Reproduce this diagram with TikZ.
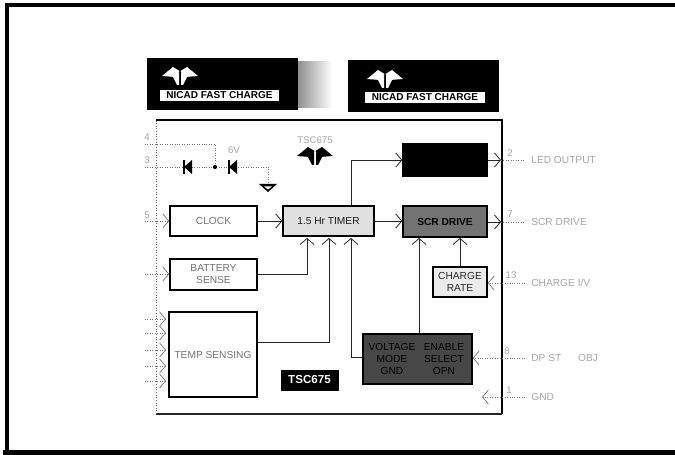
\documentclass[tikz,border=0pt]{standalone}
\usepackage{fontspec}
\setmainfont{Liberation Sans}
\usetikzlibrary{arrows.meta}
\tikzset{
    tdLogoPic/.pic={
        \fill[pic actions] (-18,0) -- (-7,-9) -- (-0.5,-5) -- (-5,1) -- cycle;
        \fill[pic actions] (18,0) -- (7,-9) -- (0.5,-5) -- (5,1) -- cycle;
        \fill[pic actions] (-7,1) -- (-1,-4) -- (-1,9) -- (-3,9) -- cycle;
        \fill[pic actions] (7,1) -- (1,-4) -- (1,9) -- (3,9) -- cycle;
    },
    diodePic/.pic={
        \fill[black] (-2,0) -- (6,-7) -- (6,7) -- cycle;
        \draw[black, line width=0.7pt] (-2,-7) -- (-2,7);
    }
}
\begin{document}
\begin{tikzpicture}[
    x=0.02cm, y=-0.02cm,
    tscTextStyle/.style={font=\fontsize{5.8}{6.8}\selectfont, align=center, inner sep=0pt},
    tscBlockStyle/.style={tscTextStyle, draw=black, line width=0.85pt, text=black!55},
    tscTimerStyle/.style={tscBlockStyle, fill=black!12, text=black!90},
    tscDriveStyle/.style={tscBlockStyle, fill=black!55, text=black, font=\fontsize{5.8}{6.8}\selectfont\bfseries},
    tscDarkStyle/.style={tscBlockStyle, fill=black!72, text=black},
    tscBadgeStyle/.style={fill=black, draw=black, inner sep=0pt},
    tscTagStyle/.style={fill=white, text=black, inner sep=0pt, font=\fontsize{5.7}{6.7}\selectfont\bfseries},
    tscPinStyle/.style={font=\fontsize{5.5}{6.5}\selectfont, text=black!35, inner sep=0pt},
    tscSignalStyle/.style={font=\fontsize{5.8}{6.8}\selectfont, text=black!35, anchor=west, inner sep=3.4pt},
    tscWireStyle/.style={black!85, line width=0.45pt},
    tscPinWireStyle/.style={black!55, line width=0.4pt, densely dotted},
    >={Straight Barb[length=3.4pt, width=8pt]}
]
    \useasboundingbox (0,0) rectangle (675,455);
    % --- page frame ---
    \draw[black, line width=2.5pt] (675,5) -- (7,5) -- (7,452.5);
    \draw[black, line width=2.8pt] (3,452.5) -- (675,452.5);

    % --- two labels on top ---
    \shade[left color=black!45, right color=white] (297,62) rectangle (332,108);
    \node[tscBadgeStyle, minimum width=3cm, minimum height=1.02cm] (badgeA) at (222,83.5) {};
    \node[tscBadgeStyle, minimum width=3cm, minimum height=1.02cm] (badgeB) at (423,85.5) {};
    \node[tscTagStyle, minimum width=2.38cm, minimum height=0.22cm] (tagA) at (219.5,95.5) {NICAD FAST CHARGE};
    \node[tscTagStyle, minimum width=2.4cm, minimum height=0.22cm] (tagB) at (425,97.5) {NICAD FAST CHARGE};
    \pic[fill=white] at (180,76) {tdLogoPic};
    \pic[fill=white] at (385,79) {tdLogoPic};

    % --- chip outline ---
    \draw[black, line width=0.8pt] (156,120) -- (502,120) -- (502,414);
    \draw[black!85, line width=0.6pt] (502,414) -- (156,414);
    \draw[black!60, line width=0.5pt, densely dotted] (156,414) -- (156,120);
    \node[tscPinStyle] (chipName) at (315,140) {TSC675};
    \pic[fill=black] at (315,156) {tdLogoPic};

    % --- blocks ---
    \node[tscBlockStyle, minimum width=1.74cm, minimum height=0.6cm] (clock) at (213.5,221) {CLOCK};
    \node[tscTimerStyle, minimum width=1.82cm, minimum height=0.6cm] (timer) at (328.5,221) {1.5 Hr TIMER};
    \node[tscBlockStyle, minimum width=1.74cm, minimum height=0.62cm] (battery) at (213.5,274.5) {BATTERY\\SENSE};
    \node[tscBlockStyle, minimum width=1.76cm, minimum height=1.7cm] (tempSense) at (213,354.5) {TEMP SENSING};
    \node[tscBadgeStyle, text=white, font=\fontsize{6.6}{7.6}\selectfont\bfseries, minimum width=1.14cm, minimum height=0.4cm] (tscTag) at (309.5,380) {TSC675};
    \node[tscBlockStyle, fill=black, minimum width=1.68cm, minimum height=0.64cm] (led) at (445,160) {};
    \node[tscDriveStyle, minimum width=1.68cm, minimum height=0.62cm] (scr) at (445,221.5) {SCR DRIVE};
    \node[tscBlockStyle, fill=black!8, text=black!85, minimum width=1.08cm, minimum height=0.6cm] (rate) at (460,282) {CHARGE\\RATE};
    \node[tscDarkStyle, minimum width=2.18cm, minimum height=1cm] (mode) at (417.5,359) {};
    \node[tscTextStyle, text=black, anchor=center] (modeA) at (392,359) {VOLTAGE\\MODE\\GND};
    \node[tscTextStyle, text=black, anchor=center] (modeB) at (444,359) {ENABLE\\SELECT\\OPN};

    % --- diodes, left top ---
    \coordinate (pinA) at (145,144);
    \coordinate (pinB) at (145,167);
    \coordinate (diodeA) at (186,167);
    \coordinate (junct) at (215,167);
    \coordinate (zener) at (231,167);
    \coordinate (gndTop) at (268,185);
    \draw[tscPinWireStyle] (pinA) -- (215,144) -- (junct);
    \draw[tscPinWireStyle] (pinB) -- (diodeA) -- (junct) -- (zener) -- (268,167) -- (gndTop);
    \fill[black] (junct) circle (1.2pt);
    \pic at (diodeA) {diodePic};
    \pic at (zener) {diodePic};
    \fill[black] (259,184) -- (277,184) -- (268,192) -- cycle;
    \fill[white] (264,186.5) -- (272,186.5) -- (268,189.5) -- cycle;
    \node[tscPinStyle] (zenerVolt) at (234,150) {6V};

    % --- left pins ---
    \coordinate (pinC) at (145,221);
    \coordinate (pinD) at (145,274);
    \node[tscPinStyle] (numA) at (147,137) {4};
    \node[tscPinStyle] (numB) at (147,160) {3};
    \node[tscPinStyle] (numC) at (147,215) {5};
    \draw[tscPinWireStyle, ->] (pinC) -- (clock);
    \draw[tscPinWireStyle, ->] (pinD) -- (battery.west |- pinD);
    \foreach \tempPinY/\tempPinName in {319/A, 333/B, 350/C, 366/D, 381/E} {
        \coordinate (tempPin\tempPinName) at (145,\tempPinY);
        \draw[tscPinWireStyle, ->] (tempPin\tempPinName) -- (166,\tempPinY);
    }

    % --- inside connections ---
    \coordinate (tmrInA) at (307,238);
    \coordinate (tmrInB) at (329,238);
    \coordinate (tmrInC) at (351,238);
    \coordinate (ledTurn) at (351,160);
    \draw[tscWireStyle, ->] (clock) -- (timer);
    \draw[tscWireStyle, ->] (battery.east |- 0,274) -| (tmrInA);
    \draw[tscWireStyle, ->] (tempSense.east |- 0,342) -| (tmrInB);
    \draw[tscWireStyle, ->] (mode.west |- 0,357) -| (tmrInC);
    \draw[tscWireStyle, ->] (ledTurn |- timer.north) -- (ledTurn) -- (led);
    \draw[tscWireStyle, ->] (timer) -- (scr.west |- timer);
    \draw[tscWireStyle, ->] (mode.north -| 419,0) -- (419,238);
    \draw[tscWireStyle, ->] (rate.north) -- (rate.north |- 0,238);

    % --- right pins ---
    \node[tscSignalStyle] (ledText) at (525,160) {LED OUTPUT};
    \node[tscSignalStyle] (scrText) at (525,222) {SCR DRIVE};
    \node[tscSignalStyle] (rateText) at (525,283) {CHARGE I/V};
    \node[tscSignalStyle] (dpstText) at (525,358) {DP ST \hspace{1.1em} OBJ};
    \node[tscSignalStyle] (gndText) at (525,397) {GND};
    \node[tscPinStyle] (numD) at (510,153) {2};
    \node[tscPinStyle] (numE) at (510,214) {7};
    \node[tscPinStyle] (numF) at (511,275) {13};
    \node[tscPinStyle] (numG) at (507,351) {8};
    \node[tscPinStyle] (numH) at (509,390) {1};
    \coordinate (ledPin) at (501,160);
    \coordinate (scrPin) at (501,222);
    \coordinate (gndTip) at (482,397);
    \draw[tscWireStyle, ->] (led) -- (ledPin);
    \draw[tscWireStyle, ->] (scr.east |- scrPin) -- (scrPin);
    \draw[tscPinWireStyle] (ledPin) -- (ledText.west);
    \draw[tscPinWireStyle] (scrPin) -- (scrText.west);
    \draw[tscPinWireStyle, ->] (rateText.west) -- (rate.east |- rateText);
    \draw[tscPinWireStyle, ->] (dpstText.west) -- (mode.east |- dpstText);
    \draw[tscPinWireStyle, ->] (gndText.west) -- (gndTip);
\end{tikzpicture}
\end{document}
